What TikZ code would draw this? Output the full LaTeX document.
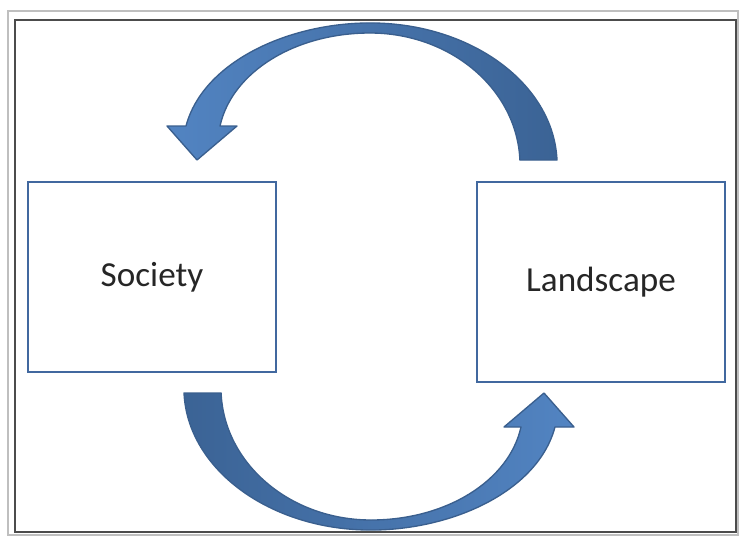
\documentclass[tikz,border=0pt]{standalone}
\usepackage{fontspec}
\setmainfont{Carlito}
\usepackage{tikz}
\definecolor{boxblue}{HTML}{41689F}
\definecolor{arrowlight}{HTML}{5284C2}
\definecolor{arrowdark}{HTML}{3B6395}
\definecolor{arrowline}{HTML}{3A5F8E}
\tikzset{
	block/.style={draw=boxblue, line width=0.8mm, minimum width=74.4mm, minimum height=57mm, text=black!85, font=\fontsize{30}{36}\selectfont},
	loop arrow/.style={draw=arrowline, line width=0.4mm, line join=round}
}

\begin{document}
\begin{tikzpicture}[x=0.3mm, y=-0.3mm]
		\useasboundingbox (0,0) rectangle (739,537);
		\draw[gray!50, line width=0.5mm] (8,11) rectangle (738,535);
		\draw[gray!60!black, line width=0.45mm] (15,20) rectangle (736,532);
		
		\node[block] (society) at (152,277) {Society};
		\node[block, minimum height=60mm] (landscape) at (601,282) {Landscape};
		
		\draw[loop arrow, left color=arrowlight, right color=arrowdark]
			(520,160) -- (557,160)
			arc[start angle=-2, end angle=-90, x radius=187, y radius=142]
			.. controls (288,23) and (203,62) .. (186,126)
			-- (167,126) -- (197,160) -- (237,126) -- (220,126)
			.. controls (232,72) and (295,33) .. (370,33)
			arc[start angle=-90, end angle=-2.2, x radius=150, y radius=132]
			-- cycle;
		\draw[loop arrow, left color=arrowdark, right color=arrowlight]
			(221,393) -- (184,393)
			arc[start angle=178, end angle=90, x radius=187, y radius=142]
			.. controls (453,530) and (538,491) .. (555,427)
			-- (574,427) -- (544,393) -- (504,427) -- (521,427)
			.. controls (509,481) and (446,520) .. (371,520)
			arc[start angle=90, end angle=177.8, x radius=150, y radius=132]
			-- cycle;
		
	\end{tikzpicture}
\end{document}
